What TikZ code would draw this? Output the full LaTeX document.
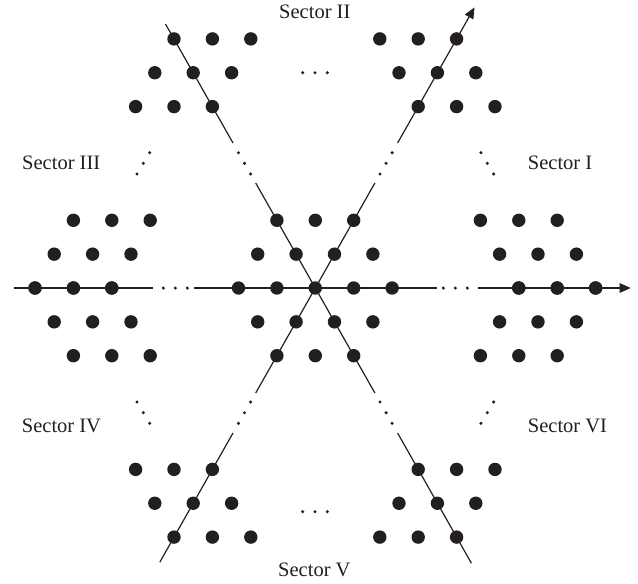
\documentclass[tikz,border=0pt]{standalone}
\usepackage{fontspec}
\setmainfont{Liberation Serif}
\usetikzlibrary{arrows.meta}
\definecolor{ink}{HTML}{231F20}
\newcommand\dotcluster[6]{%
  \foreach \m in {0,1,2}{\foreach \n in {0,1,2}{%
    \fill[ink] ({#1+\m*(#3)+\n*(#5)},{#2+\m*(#4)+\n*(#6)}) circle[radius=6.7pt];}}}
\begin{document}
\begin{tikzpicture}[x=1pt,y=-1pt,
  axis/.style={draw=ink,line width=1.2pt},
  axisarrow/.style={axis,-{Triangle[length=11pt,width=9.5pt]}},
  smalldot/.style={fill=ink},
  lbl/.style={anchor=base west,inner sep=0pt,text=ink,font=\fontsize{20.5}{24}\selectfont}]
\useasboundingbox (0,0) rectangle (638,584);
% centre
\coordinate (O) at (315.3,288);
% horizontal axis
\coordinate (h0) at (14.3,288);
\coordinate (h1) at (153.3,288);
\coordinate (h2) at (194,288);
\coordinate (h3) at (436.6,288);
\coordinate (h4) at (478,288);
\coordinate (h5) at (630.7,288);
\draw[axis] (h0) -- (h1);
\draw[axis] (h2) -- (h3);
\draw[axisarrow] (h4) -- (h5);
% 60 degree axis
\coordinate (a0) at (159.8,562.2);
\coordinate (a1) at (233.0,433.0);
\coordinate (a2) at (255.7,393.0);
\coordinate (a3) at (374.9,183.0);
\coordinate (a4) at (397.6,143.0);
\coordinate (a5) at (474.5,7.4);
\draw[axis] (a0) -- (a1);
\draw[axis] (a2) -- (a3);
\draw[axisarrow] (a4) -- (a5);
% 120 degree axis
\coordinate (b0) at (165.5,24.0);
\coordinate (b1) at (233.0,143.0);
\coordinate (b2) at (255.7,183.0);
\coordinate (b3) at (374.9,393.0);
\coordinate (b4) at (397.6,433.0);
\coordinate (b5) at (471.4,563.2);
\draw[axis] (b0) -- (b1);
\draw[axis] (b2) -- (b3);
\draw[axis] (b4) -- (b5);
% ellipsis dots
\foreach \x/\y in {163.3/288,175.3/288,187.3/288, 443.3/288,455.3/288,467.3/288,
  302.7/72.7,315/72.7,327.3/72.7, 302.7/511.7,315/511.7,327.3/511.7,
  380.0/174.0,386.1/163.3,392.1/152.7, 250.6/402.0,244.5/412.7,238.5/423.3,
  250.6/174.0,244.5/163.3,238.5/152.7, 380.0/402.0,386.1/412.7,392.1/423.3,
  137/174,143.3/163.3,149.7/152.7, 493.6/174,487.3/163.3,480.9/152.7,
  137/402,143.3/412.7,149.7/423.3, 493.6/402,487.3/412.7,480.9/423.3}
  \fill[smalldot] (\x,\y) circle[radius=1.7pt];
% central hexagon of points
\foreach \i in {-2,...,2}{\foreach \j in {-2,...,2}{%
  \pgfmathtruncatemacro\s{abs(\i+\j)}%
  \ifnum\s<3
    \fill[ink] ({315.3+\i*38.4+\j*19.2},{288-\j*33.85}) circle[radius=6.7pt];
  \fi}}
% outer clusters
\dotcluster{418.2}{106.6}{38.4}{0}{-19.2}{-33.85}
\dotcluster{212.4}{106.6}{-38.4}{0}{19.2}{-33.85}
\dotcluster{418.2}{469.4}{38.4}{0}{-19.2}{33.85}
\dotcluster{212.4}{469.4}{-38.4}{0}{19.2}{33.85}
\dotcluster{518.8}{288}{38.4}{0}{-19.2}{-33.85}
\dotcluster{518.8}{288}{38.4}{0}{-19.2}{33.85}
\dotcluster{111.8}{288}{-38.4}{0}{19.2}{-33.85}
\dotcluster{111.8}{288}{-38.4}{0}{19.2}{33.85}
% labels
\node[lbl] (sI)   at (527.7,169) {Sector I};
\node[lbl] (sII)  at (279,18.3) {Sector II};
\node[lbl] (sIII) at (22,169) {Sector III};
\node[lbl] (sIV)  at (21.7,432) {Sector IV};
\node[lbl] (sV)   at (278,576.5) {Sector V};
\node[lbl] (sVI)  at (527.7,432) {Sector VI};
\end{tikzpicture}
\end{document}
